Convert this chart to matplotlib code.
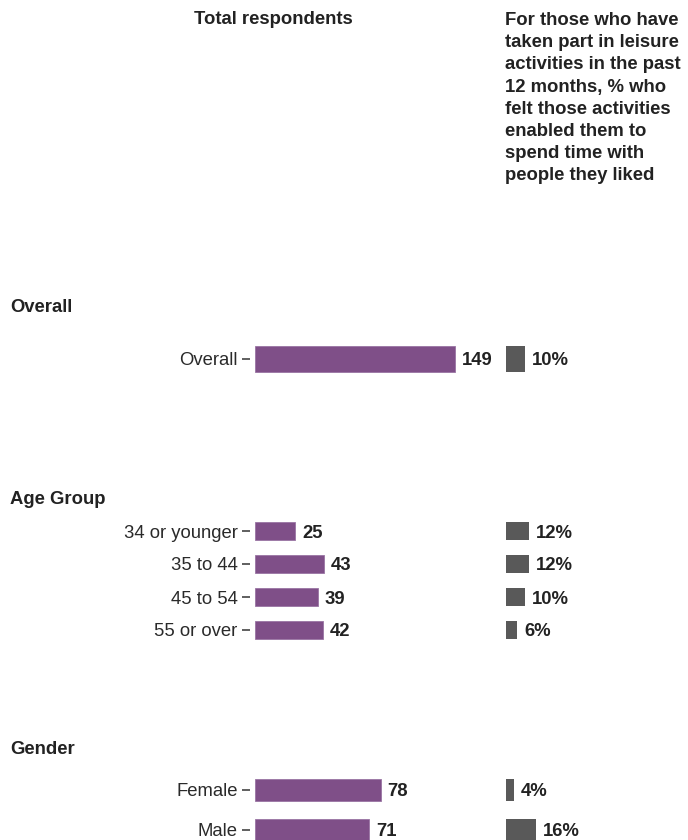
import matplotlib
matplotlib.use("Agg")
import matplotlib.pyplot as plt

plt.rcParams['font.family'] = ['Liberation Sans', 'DejaVu Sans']

# data
overall_labels = ["Overall"]
overall_n = [149]
overall_pct = [10]

age_labels = ["34 or younger", "35 to 44", "45 to 54", "55 or over"]
age_n = [25, 43, 39, 42]
age_pct = [12, 12, 10, 6]

gender_labels = ["Female", "Male"]
gender_n = [78, 71]
gender_pct = [4, 16]

W, H = 688, 840
purple = '#7f4f88'
grey = '#595959'
fs = 13.3

fig = plt.figure(figsize=(W / 100, H / 100), dpi=100)


def px_axes(x0, x1, ytop, ybot):
    return fig.add_axes([x0 / W, 1 - ybot / H, (x1 - x0) / W, (ybot - ytop) / H])


# facet: title, title y, first row centre, row spacing, labels, n, pct, px per unit (left)
facets = [
    ("Overall", 308, 359, 49, overall_labels, overall_n, overall_pct, 1.342),
    ("Age Group", 499, 531, 33, age_labels, age_n, age_pct, 1.61),
    ("Gender", 749, 790, 40, gender_labels, gender_n, gender_pct, 1.61),
]

for title, ty, c0, sp, labels, n, pct, ppu in facets:
    k = len(labels)
    ytop = c0 - sp / 2
    ybot = ytop + sp * k
    pos = list(range(k))

    # left panel: total respondents
    axl = px_axes(250, 495, ytop, ybot)
    axl.barh(pos, n, height=0.55, color=purple, edgecolor='#9a74a3', linewidth=0.6)
    axl.set_xlim(-5 / ppu, (495 - 255) / ppu)
    axl.set_ylim(k - 0.5, -0.5)
    axl.set_yticks(pos)
    axl.set_yticklabels(labels, fontsize=fs, color='#2a2a2a')
    axl.tick_params(axis='y', length=6, width=1.2, color='#444444', pad=3)
    axl.set_xticks([])
    for s in axl.spines.values():
        s.set_visible(False)
    for p, v in zip(pos, n):
        axl.annotate(str(v), (v, p), xytext=(5, 0), textcoords='offset points',
                     va='center_baseline', ha='left', fontsize=fs, fontweight='bold',
                     color='#222222')

    # right panel: percentages
    axr = px_axes(501, 688, ytop, ybot)
    axr.barh(pos, pct, height=0.55, color=grey)
    axr.set_xlim(-5 / 1.9, (688 - 506) / 1.9)
    axr.set_ylim(k - 0.5, -0.5)
    axr.set_xticks([])
    axr.set_yticks([])
    for s in axr.spines.values():
        s.set_visible(False)
    for p, v in zip(pos, pct):
        axr.annotate(f"{v}%", (v, p), xytext=(5, 0), textcoords='offset points',
                     va='center_baseline', ha='left', fontsize=fs, fontweight='bold',
                     color='#222222')

    fig.text(10 / W, 1 - ty / H, title, ha='left', va='center',
             fontsize=fs, fontweight='bold', color='#222222')

# column headers
fig.text(273 / W, 1 - 19 / H, "Total respondents", ha='center', va='center',
         fontsize=fs, fontweight='bold', color='#222222')
fig.text(505 / W, 1 - 12 / H,
         "For those who have\ntaken part in leisure\nactivities in the past\n12 months, % who\n"
         "felt those activities\nenabled them to\nspend time with\npeople they liked",
         ha='left', va='top', fontsize=fs, fontweight='bold', color='#222222', linespacing=1.40)

fig.savefig("out.png", dpi=100)
